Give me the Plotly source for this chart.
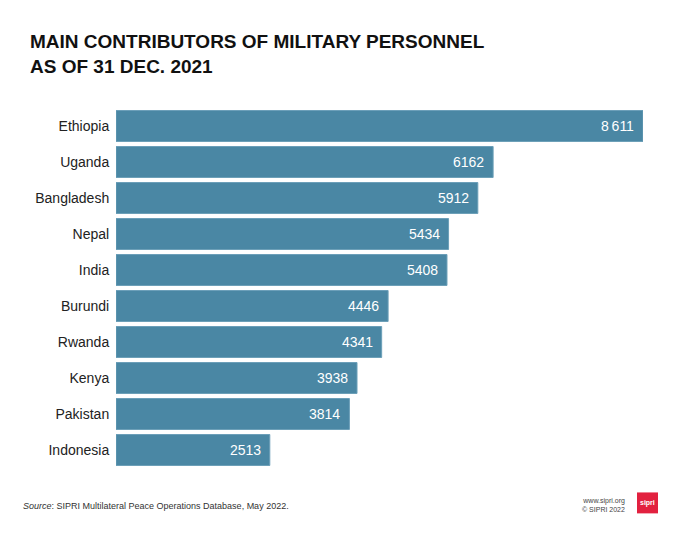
import plotly.graph_objects as go

countries = ["Ethiopia", "Uganda", "Bangladesh", "Nepal", "India",
             "Burundi", "Rwanda", "Kenya", "Pakistan", "Indonesia"]
personnel = [8611, 6162, 5912, 5434, 5408, 4446, 4341, 3938, 3814, 2513]
value_labels = ["8\u2009611", "6162", "5912", "5434", "5408",
                "4446", "4341", "3938", "3814", "2513"]

W, H = 680, 535
L, R, T, B = 116, 643, 107.5, 468.5

def px(x):
    return (x - L) / (R - L)

def py(y):
    return (B - y) / (B - T)

fig = go.Figure()
fig.add_trace(go.Bar(
    y=countries, x=personnel, orientation="h",
    marker=dict(color="#4a87a4", line=dict(color="#6b9fb8", width=1)),
    width=0.86, hoverinfo="skip",
))

annotations = []
for c, v, t in zip(countries, personnel, value_labels):
    annotations.append(dict(x=v, y=c, xref="x", yref="y", text=t, showarrow=False,
                            xanchor="right", yanchor="middle", xshift=-7,
                            font=dict(family="Liberation Sans, Arial, sans-serif",
                                      size=14, color="white")))

annotations.append(dict(
    x=px(28), y=py(28), xref="paper", yref="paper", xanchor="left", yanchor="top",
    text="<b>MAIN CONTRIBUTORS OF MILITARY PERSONNEL<br>AS OF 31 DEC. 2021</b>",
    align="left", showarrow=False,
    font=dict(family="Liberation Sans, Arial, sans-serif", size=19, color="#111111")))

annotations.append(dict(
    x=px(21), y=py(507), xref="paper", yref="paper", xanchor="left", yanchor="middle",
    text="<i>Source</i>: SIPRI Multilateral Peace Operations Database, May 2022.",
    showarrow=False,
    font=dict(family="Liberation Sans, Arial, sans-serif", size=9, color="#333333")))

annotations.append(dict(
    x=px(627), y=py(506), xref="paper", yref="paper", xanchor="right", yanchor="middle",
    text="www.sipri.org<br>© SIPRI 2022", align="right", showarrow=False,
    font=dict(family="Liberation Sans, Arial, sans-serif", size=7, color="#444444")))

annotations.append(dict(
    x=px(647.5), y=py(503.5), xref="paper", yref="paper", xanchor="center", yanchor="middle",
    text="<b>sipri</b>", showarrow=False,
    font=dict(family="Liberation Sans, Arial, sans-serif", size=7, color="white")))

shapes = [dict(type="rect", xref="paper", yref="paper",
               x0=px(637), x1=px(658), y0=py(514), y1=py(493),
               fillcolor="#e2213f", line=dict(width=0))]

fig.update_layout(
    width=W, height=H,
    margin=dict(l=L, r=W - R, t=T, b=H - B, pad=0),
    paper_bgcolor="white", plot_bgcolor="white",
    showlegend=False,
    xaxis=dict(range=[0, 8611], visible=False, fixedrange=True),
    yaxis=dict(categoryorder="array", categoryarray=countries[::-1],
               range=[-0.5, 9.5], showgrid=False, zeroline=False, showline=False,
               fixedrange=True,
               ticks="outside", ticklen=3, tickcolor="rgba(0,0,0,0)",
               tickfont=dict(family="Liberation Sans, Arial, sans-serif", size=14,
                             color="#222222")),
    annotations=annotations, shapes=shapes,
)

fig.write_html("out.html", config={"displayModeBar": False},
               post_script="document.body.style.margin='0';")
